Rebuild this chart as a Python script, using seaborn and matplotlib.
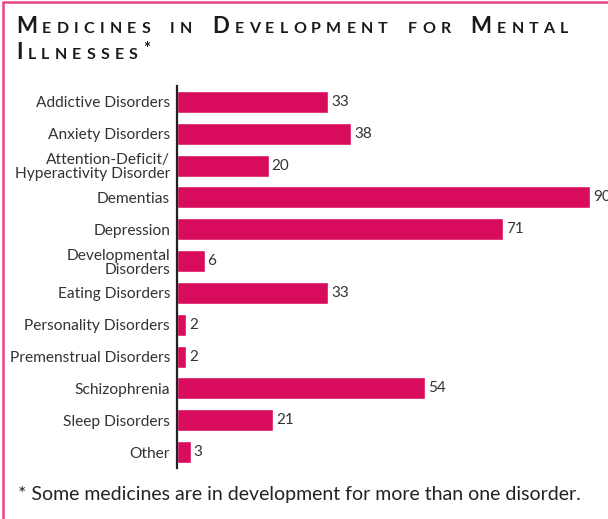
import matplotlib
matplotlib.use("Agg")
import matplotlib.pyplot as plt
import seaborn as sns
import pandas as pd
from matplotlib.patches import Rectangle

# data
disorders = ["Addictive Disorders", "Anxiety Disorders",
             "Attention-Deficit/\nHyperactivity Disorder", "Dementias",
             "Depression", "Developmental\nDisorders", "Eating Disorders",
             "Personality Disorders", "Premenstrual Disorders",
             "Schizophrenia", "Sleep Disorders", "Other"]
medicines = [33, 38, 20, 90, 71, 6, 33, 2, 2, 54, 21, 3]

df = pd.DataFrame({"Disorder": disorders, "Medicines": medicines})

sns.set_style("white")
plt.rcParams["font.family"] = ["Lato", "DejaVu Sans"]

bar_color = "#D80B5C"
frame_color = "#E8458A"
text_color = "#333333"

W, H = 608, 519
fig = plt.figure(figsize=(W / 100, H / 100), dpi=100)

ax = fig.add_axes([177 / W, 1 - 468 / H, (W - 177) / W, (468 - 86) / H])
sns.barplot(data=df, x="Medicines", y="Disorder", color=bar_color,
            width=0.69, saturation=1, ax=ax, orient="h")
ax.set_xlim(0, 93.9)
ax.set_ylim(11.5, -0.5)
ax.set_xlabel("")
ax.set_ylabel("")
ax.xaxis.set_visible(False)
for s in ["top", "right", "bottom"]:
    ax.spines[s].set_visible(False)
ax.spines["left"].set_color("#222222")
ax.spines["left"].set_linewidth(1.6)
ax.tick_params(axis="y", length=0, pad=5, labelsize=11.2, labelcolor=text_color)
for lbl in ax.get_yticklabels():
    lbl.set_linespacing(1.0)
ax.bar_label(ax.containers[0], padding=2, fontsize=11, color=text_color,
             clip_on=False)

# pink frame (only left and top edges visible in the crop)
fig.add_artist(Rectangle((3 / W, -0.1), 1.2, 1 - 2 / H + 0.1,
                         transform=fig.transFigure, fill=False,
                         edgecolor=frame_color, linewidth=1.8))

# small-caps title, letter by letter
renderer = fig.canvas.get_renderer()
title_lines = [["Medicines", "in", "Development", "for", "Mental"],
               ["Illnesses*"]]
baselines = [33, 59]
big, small = 16, 11.5
track, word_gap = 5.2, 15
for words, base in zip(title_lines, baselines):
    x = 16
    for word in words:
        for i, ch in enumerate(word):
            if ch == "*":
                size, txt, dy = 12, "*", 5
            elif i == 0 and word not in ("in", "for"):
                size, txt, dy = big, ch.upper(), 0
            else:
                size, txt, dy = small, ch.upper(), 0
            t = fig.text(x / W, 1 - (base - dy) / H, txt, fontsize=size,
                         fontweight="bold", color="#1a1a1a", va="baseline")
            bb = t.get_window_extent(renderer)
            x = bb.x1 + track
        x += word_gap

fig.text(18 / W, 1 - 500 / H,
         "* Some medicines are in development for more than one disorder.",
         fontsize=14, color="#222222", va="baseline")

fig.savefig("out.png", dpi=100)
